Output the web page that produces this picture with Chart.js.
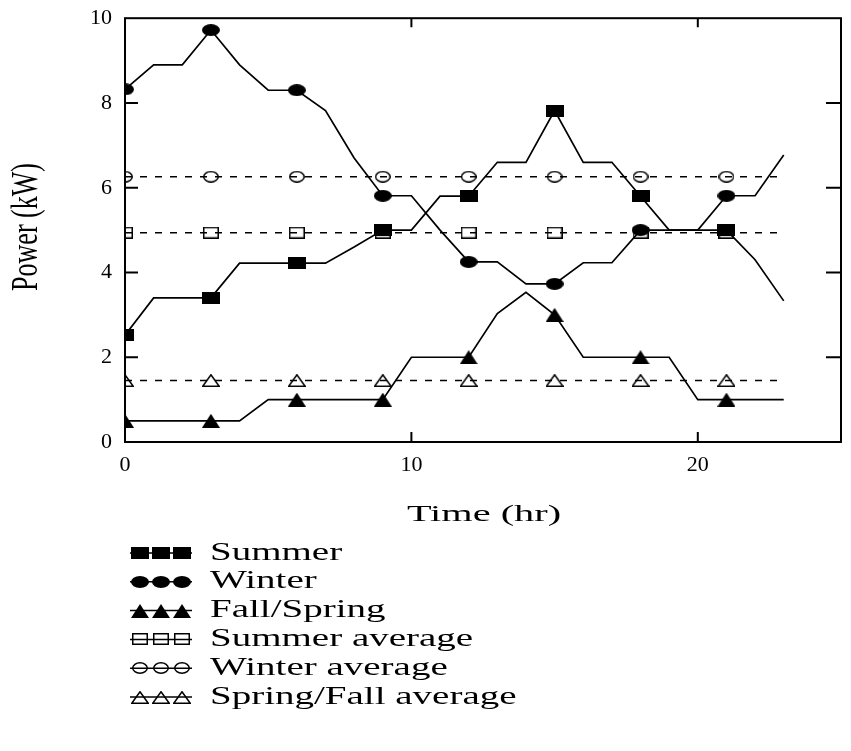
<!DOCTYPE html>
<html>
<head>
<meta charset="UTF-8">
<title>Power vs Time</title>
<script src="https://cdn.jsdelivr.net/npm/chart.js"></script>
<style>
  body { margin: 0; background: #fff; }
</style>
</head>
<body>
<canvas id="powerChart" width="851" height="751"></canvas>
<script>
// hourly power readings (kW)
const hours = [0, 1, 2, 3, 4, 5, 6, 7, 8, 9, 10, 11, 12, 13, 14, 15, 16, 17, 18, 19, 20, 21, 22, 23];
const summer = [2.52, 3.4, 3.4, 3.4, 4.22, 4.22, 4.22, 4.22, 4.6, 5.0, 5.0, 5.8, 5.8, 6.6, 6.6, 7.82, 6.6, 6.6, 5.8, 5.0, 5.0, 5.0, 4.3, 3.33];
const winter = [8.32, 8.9, 8.9, 9.72, 8.9, 8.3, 8.3, 7.82, 6.7, 5.81, 5.81, 5.0, 4.25, 4.25, 3.73, 3.73, 4.23, 4.23, 5.0, 5.0, 5.0, 5.81, 5.81, 6.77];
const fallSpring = [0.5, 0.5, 0.5, 0.5, 0.5, 1.0, 1.0, 1.0, 1.0, 1.0, 2.0, 2.0, 2.0, 3.03, 3.53, 3.0, 2.0, 2.0, 2.0, 2.0, 1.0, 1.0, 1.0, 1.0];
const summerAvg = 4.94;
const winterAvg = 6.26;
const fallSpringAvg = 1.45;
const xTicks = [0, 10, 20];
const yTicks = [0, 2, 4, 6, 8, 10];

const FONT = "'Liberation Serif', 'Times New Roman', serif";

// small canvases used as point markers (the figure's markers are wider than tall)
function sprite(w, h, shape, filled) {
  const c = document.createElement('canvas');
  c.width = w; c.height = h;
  const g = c.getContext('2d');
  const m = filled ? 0 : 0.75;
  g.lineWidth = 1.5;
  g.fillStyle = '#000';
  g.strokeStyle = '#000';
  g.beginPath();
  if (shape === 'rect') {
    g.rect(m, m, w - 2 * m, h - 2 * m);
  } else if (shape === 'circle') {
    g.ellipse(w / 2, h / 2, w / 2 - m, h / 2 - m, 0, 0, Math.PI * 2);
  } else {
    g.moveTo(w / 2, m);
    g.lineTo(w - m, h - m);
    g.lineTo(m, h - m);
    g.closePath();
  }
  if (filled) g.fill(); else g.stroke();
  return c;
}

const mk = {
  summer: sprite(18, 12, 'rect', true),
  winter: sprite(18, 12, 'circle', true),
  fall: sprite(18, 14, 'tri', true),
  summerAvg: sprite(16, 12, 'rect', false),
  winterAvg: sprite(16, 12, 'circle', false),
  fallAvg: sprite(18, 13, 'tri', false)
};

function series(label, values, marker, dashed) {
  return {
    label: label,
    data: hours.map((h, i) => ({ x: h, y: values[i] })),
    borderColor: '#000',
    borderWidth: dashed ? 1.5 : 1.7,
    borderDash: dashed ? [7, 8] : [],
    pointStyle: marker,
    pointRadius: c => (c.dataIndex % 3 === 0 ? 8 : 0),
    pointHoverRadius: 0,
    tension: 0,
    fill: false
  };
}

function flat(v) {
  return hours.map(() => v);
}

function stretchText(ctx, text, x, y, sx, sy) {
  ctx.save();
  ctx.translate(x, y);
  ctx.scale(sx, sy);
  ctx.fillText(text, 0, 0);
  ctx.restore();
}

// box frame with inward ticks, like the original plot
const framePlugin = {
  id: 'frame',
  afterDatasetsDraw(chart) {
    const { ctx, chartArea: a, scales } = chart;
    ctx.save();
    ctx.strokeStyle = '#000';
    ctx.lineWidth = 2;
    ctx.strokeRect(a.left, a.top, a.right - a.left, a.bottom - a.top);
    ctx.beginPath();
    yTicks.slice(1, -1).forEach(v => {
      const y = scales.y.getPixelForValue(v);
      ctx.moveTo(a.left, y); ctx.lineTo(a.left + 13, y);
      ctx.moveTo(a.right, y); ctx.lineTo(a.right - 15, y);
    });
    xTicks.slice(1).forEach(v => {
      const x = scales.x.getPixelForValue(v);
      ctx.moveTo(x, a.top); ctx.lineTo(x, a.top + 9);
      ctx.moveTo(x, a.bottom); ctx.lineTo(x, a.bottom - 10);
    });
    ctx.stroke();
    ctx.restore();
  }
};

// axis titles and the stacked legend under the plot
const textPlugin = {
  id: 'texts',
  afterDraw(chart) {
    const { ctx, chartArea: a } = chart;
    ctx.save();
    ctx.fillStyle = '#000';
    ctx.textAlign = 'center';
    ctx.textBaseline = 'middle';
    ctx.font = '24px ' + FONT;
    stretchText(ctx, 'Time (hr)', (a.left + a.right) / 2 + 1, 515, 1.68, 1);

    ctx.save();
    ctx.translate(27, 227);
    ctx.rotate(-Math.PI / 2);
    ctx.font = '26px ' + FONT;
    stretchText(ctx, 'Power (kW)', 0, 0, 1, 1.45);
    ctx.restore();

    ctx.textAlign = 'left';
    ctx.font = '25px ' + FONT;
    chart.data.datasets.forEach((ds, i) => {
      const y = 553 + i * 28.8;
      ctx.strokeStyle = '#000';
      ctx.lineWidth = 1.5;
      ctx.beginPath();
      ctx.moveTo(130, y); ctx.lineTo(192, y);
      ctx.stroke();
      [140, 161, 182].forEach(x => {
        const s = ds.pointStyle;
        ctx.drawImage(s, x - s.width / 2, Math.round(y - s.height / 2));
      });
      stretchText(ctx, ds.label, 210, y, 1.56, 1);
    });
    ctx.restore();
  }
};

new Chart(document.getElementById('powerChart'), {
  type: 'line',
  data: {
    datasets: [
      series('Summer', summer, mk.summer, false),
      series('Winter', winter, mk.winter, false),
      series('Fall/Spring', fallSpring, mk.fall, false),
      series('Summer average', flat(summerAvg), mk.summerAvg, true),
      series('Winter average', flat(winterAvg), mk.winterAvg, true),
      series('Spring/Fall average', flat(fallSpringAvg), mk.fallAvg, true)
    ]
  },
  options: {
    responsive: false,
    animation: false,
    devicePixelRatio: 1,
    layout: { padding: { top: 13, right: 10, bottom: 273, left: 0 } },
    plugins: {
      legend: { display: false },
      tooltip: { enabled: false }
    },
    scales: {
      x: {
        type: 'linear',
        min: 0,
        max: 25,
        afterBuildTicks: s => { s.ticks = xTicks.map(v => ({ value: v })); },
        afterFit: s => { s.height = 36; },
        grid: { display: false },
        border: { display: false },
        ticks: { color: '#000', padding: 2, maxRotation: 0, font: { family: FONT, size: 22 } }
      },
      y: {
        min: 0,
        max: 10,
        afterBuildTicks: s => { s.ticks = yTicks.map(v => ({ value: v })); },
        afterFit: s => { s.width = 125; },
        grid: { display: false },
        border: { display: false },
        ticks: { color: '#000', padding: 5, font: { family: FONT, size: 22 } }
      }
    }
  },
  plugins: [framePlugin, textPlugin]
});
</script>
</body>
</html>
